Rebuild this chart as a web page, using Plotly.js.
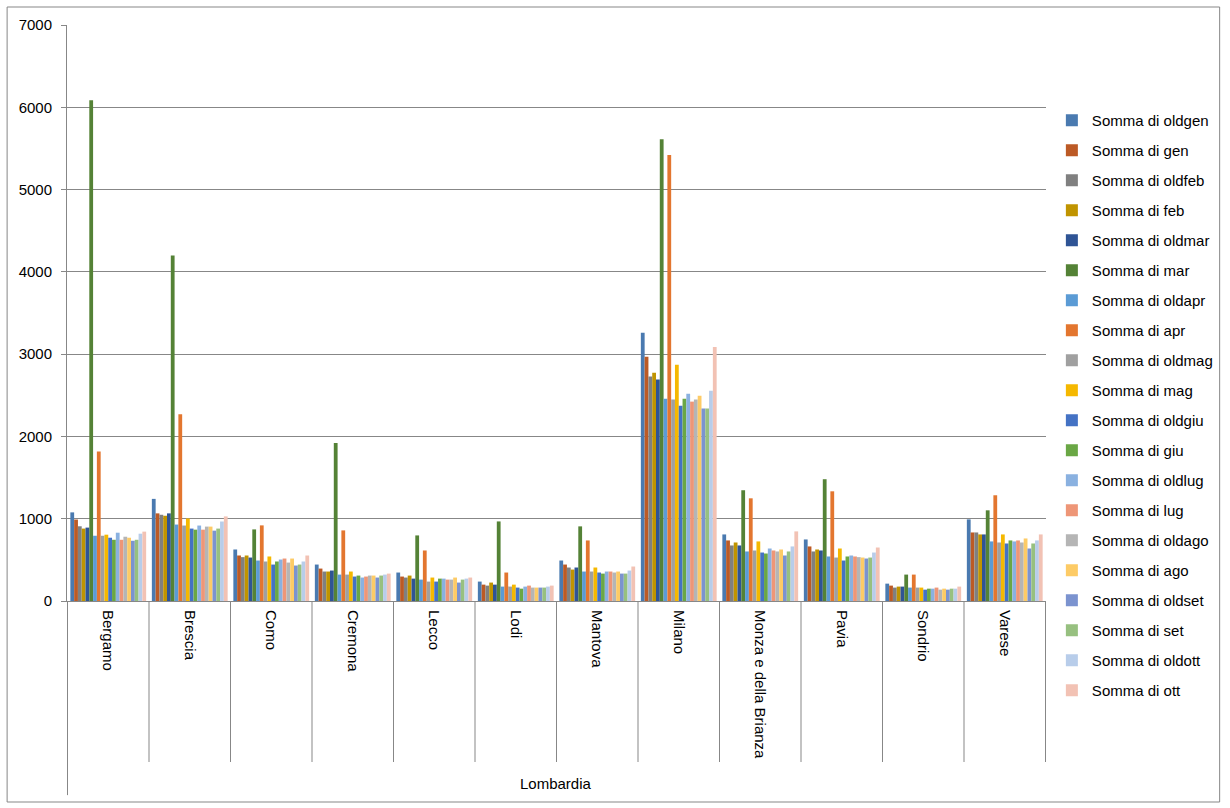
<!DOCTYPE html>
<html>
<head>
<meta charset="utf-8">
<script src="https://cdn.plot.ly/plotly-3.0.1.min.js"></script>
<style>
  html, body { margin: 0; padding: 0; background: #ffffff; }
  #chart { width: 1230px; height: 808px; }
</style>
</head>
<body>
<div id="chart"></div>
<script>
// Categories (province) and region label
const provinces = ["Bergamo", "Brescia", "Como", "Cremona", "Lecco", "Lodi", "Mantova", "Milano", "Monza e della Brianza", "Pavia", "Sondrio", "Varese"];
const regionLabel = "Lombardia";

// Series values
const oldgen = [1077, 1241, 626, 443, 346, 236, 492, 3260, 809, 748, 211, 992];
const gen    = [990, 1065, 553, 394, 297, 199, 443, 2969, 736, 663, 187, 833];
const oldfeb = [908, 1048, 533, 358, 285, 187, 407, 2727, 675, 602, 163, 833];
const feb    = [880, 1036, 553, 358, 309, 224, 382, 2775, 711, 626, 175, 809];
const oldmar = [892, 1065, 528, 370, 272, 199, 407, 2692, 675, 614, 175, 809];
const mar    = [6087, 4200, 870, 1919, 797, 967, 907, 5612, 1346, 1480, 321, 1102];
const oldapr = [793, 929, 492, 321, 260, 175, 358, 2458, 602, 541, 163, 724];
const apr    = [1817, 2269, 919, 858, 614, 346, 736, 5419, 1248, 1333, 321, 1285];
const oldmag = [793, 917, 480, 321, 236, 175, 358, 2449, 614, 528, 163, 711];
const mag    = [806, 1003, 541, 358, 285, 199, 407, 2872, 724, 638, 163, 809];
const oldgiu = [769, 880, 443, 297, 236, 163, 346, 2374, 589, 492, 138, 699];
const giu    = [744, 867, 480, 309, 272, 150, 333, 2458, 577, 541, 150, 736];
const oldlug = [830, 917, 504, 285, 272, 175, 358, 2520, 638, 553, 150, 724];
const lug    = [744, 867, 516, 297, 260, 187, 358, 2423, 614, 541, 163, 736];
const oldago = [781, 904, 467, 309, 260, 163, 346, 2449, 602, 533, 138, 711];
const ago    = [769, 904, 516, 309, 285, 163, 358, 2493, 626, 528, 150, 760];
const oldset = [732, 855, 431, 285, 224, 163, 333, 2339, 553, 516, 138, 638];
const set    = [744, 880, 443, 309, 260, 163, 333, 2339, 602, 528, 150, 699];
const oldott = [818, 966, 480, 321, 272, 175, 370, 2555, 663, 589, 150, 736];
const ott    = [843, 1028, 553, 333, 285, 187, 419, 3088, 846, 650, 175, 809];

const seriesNames = ["Somma di oldgen", "Somma di gen", "Somma di oldfeb", "Somma di feb", "Somma di oldmar", "Somma di mar",
  "Somma di oldapr", "Somma di apr", "Somma di oldmag", "Somma di mag", "Somma di oldgiu", "Somma di giu",
  "Somma di oldlug", "Somma di lug", "Somma di oldago", "Somma di ago", "Somma di oldset", "Somma di set",
  "Somma di oldott", "Somma di ott"];
const seriesValues = [oldgen, gen, oldfeb, feb, oldmar, mar, oldapr, apr, oldmag, mag, oldgiu, giu,
  oldlug, lug, oldago, ago, oldset, set, oldott, ott];

const yTickVals = [0, 1000, 2000, 3000, 4000, 5000, 6000, 7000];

// Styles
const colors = ["#4A7AB0", "#BC5A25", "#808080", "#C09400", "#2F5495", "#548236",
  "#5B9BD5", "#E3762F", "#A0A0A0", "#F5B800", "#4472C4", "#6AA745",
  "#8AB1E0", "#EE9677", "#B5B5B5", "#FDCB66", "#7B93CF", "#97C080",
  "#B8CDEA", "#F2C2B4"];

const FONT = "Liberation Sans, Arial, sans-serif";
const FS = 15;
const GRID = "#878787";

const traces = seriesNames.map((name, i) => ({
  type: "bar",
  name: name,
  x: provinces,
  y: seriesValues[i],
  legendgroup: "g" + i,
  legend: i < 10 ? "legend" : "legend2",
  marker: { color: colors[i], line: { width: 0 } },
  hoverinfo: "x+y+name"
}));

// Category separator lines below the axis
const shapes = [];
for (let k = 0; k <= provinces.length; k++) {
  const isLeft = (k === 0);
  shapes.push({
    type: "line", xref: "x", yref: "paper",
    x0: k - 0.5, x1: k - 0.5, y0: 0, y1: isLeft ? -0.337 : -0.2795,
    line: { color: GRID, width: 1 }
  });
}
// outer frame
shapes.push({
  type: "rect", xref: "paper", yref: "paper",
  x0: (7 - 67) / 981, x1: (1222 - 67) / 981,
  y0: (601 - 802) / 576, y1: (601 - 7) / 576,
  line: { color: GRID, width: 1 }, fillcolor: "rgba(0,0,0,0)"
});

const legendBase = {
  x: 1.006, xanchor: "left",
  yanchor: "top",
  font: { family: FONT, size: FS, color: "#000000" },
  tracegroupgap: 7.5,
  bgcolor: "rgba(0,0,0,0)",
  borderwidth: 0
};

const layout = {
  width: 1230, height: 808,
  margin: { l: 67, r: 182, t: 25, b: 207, pad: 0 },
  paper_bgcolor: "#ffffff",
  plot_bgcolor: "#ffffff",
  font: { family: FONT, size: FS, color: "#000000" },
  barmode: "group",
  bargap: 0.07,
  bargroupgap: 0,
  showlegend: true,
  legend: Object.assign({}, legendBase, { y: 0.863 }),
  legend2: Object.assign({}, legendBase, { y: 0.863 - 300 / 576 }),
  xaxis: {
    type: "category",
    tickangle: 90,
    ticks: "",
    showgrid: false,
    showline: true,
    linecolor: GRID,
    linewidth: 1,
    ticklabelstandoff: 5,
    tickfont: { family: FONT, size: FS, color: "#000000" },
    automargin: false,
    fixedrange: true
  },
  yaxis: {
    range: [0, 7000],
    tickvals: yTickVals,
    ticktext: yTickVals.map(String),
    ticks: "outside",
    ticklen: 5,
    tickcolor: GRID,
    showgrid: true,
    gridcolor: GRID,
    gridwidth: 1,
    showline: true,
    linecolor: GRID,
    linewidth: 1,
    zeroline: false,
    ticklabelstandoff: 6,
    tickfont: { family: FONT, size: FS, color: "#000000" },
    automargin: false,
    fixedrange: true
  },
  shapes: shapes,
  annotations: [{
    text: regionLabel, xref: "paper", yref: "paper",
    x: 0.4995, y: (601 - 783) / 576, xanchor: "center", yanchor: "middle",
    showarrow: false, font: { family: FONT, size: FS, color: "#000000" }
  }]
};

Plotly.newPlot("chart", traces, layout, { displayModeBar: false, staticPlot: true });
</script>
</body>
</html>
